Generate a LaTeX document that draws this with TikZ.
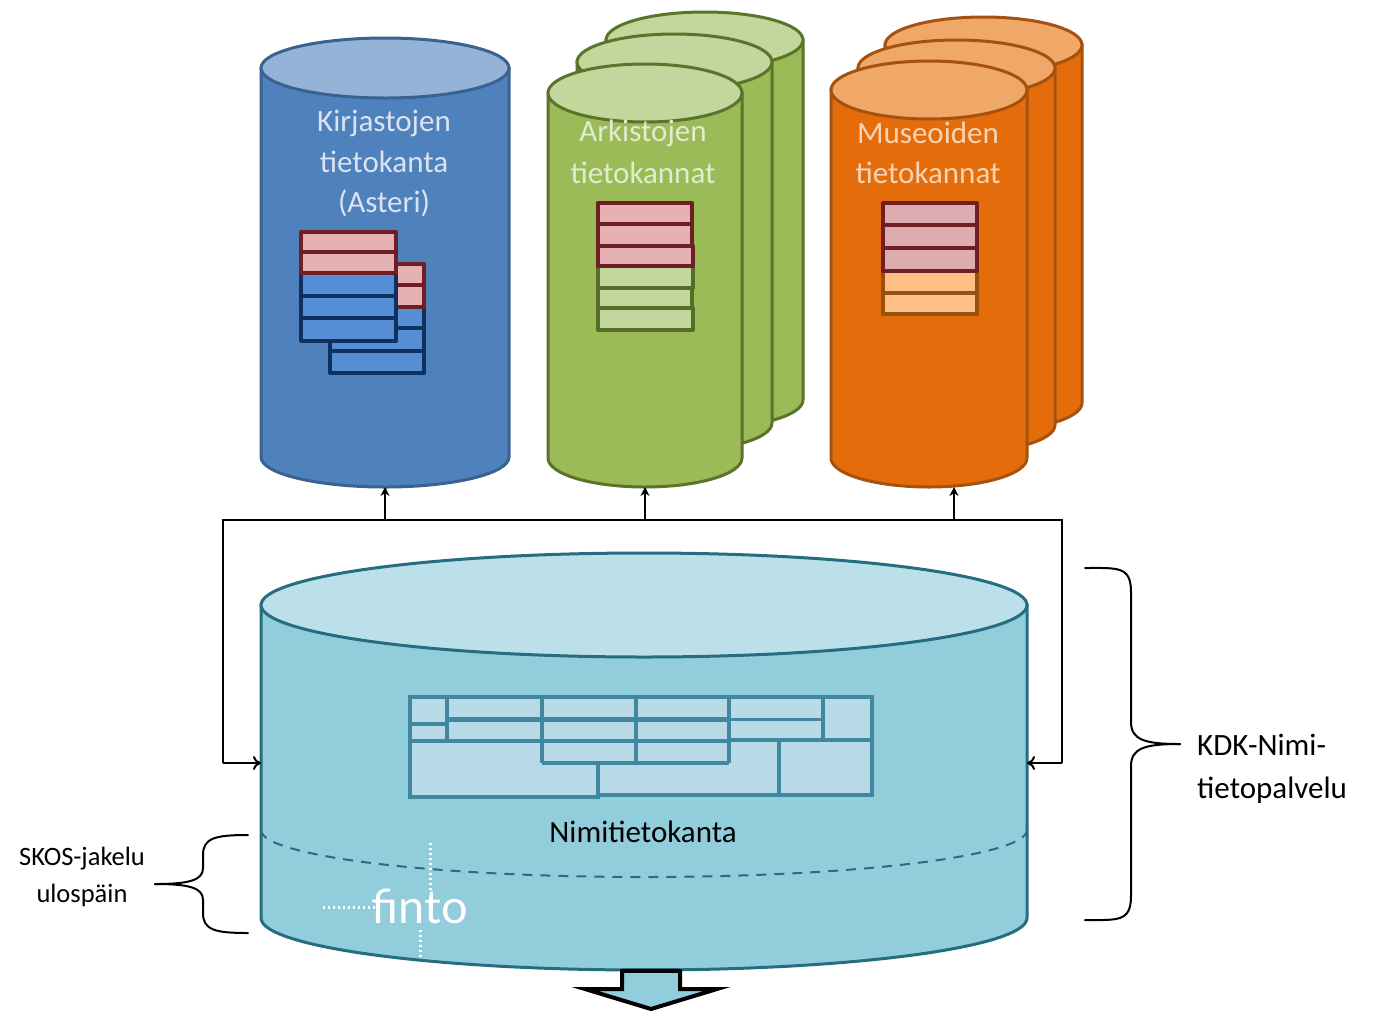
\documentclass[tikz,border=0pt]{standalone}
\usepackage{fontspec}
\setmainfont{Carlito}
\newfontfamily\logofont{Lato}
\usetikzlibrary{arrows.meta}
\definecolor{bluebody}{HTML}{4F81BD}\definecolor{blueedge}{HTML}{3A6291}\definecolor{bluetop}{HTML}{95B3D7}
\definecolor{greenbody}{HTML}{9BBB59}\definecolor{greenedge}{HTML}{5A7429}\definecolor{greentop}{HTML}{C3D69B}
\definecolor{orangebody}{HTML}{E46C0A}\definecolor{orangeedge}{HTML}{A5520F}\definecolor{orangetop}{HTML}{F0A868}
\definecolor{skybody}{HTML}{92CDDC}\definecolor{skyedge}{HTML}{256D80}\definecolor{skytop}{HTML}{BCE0EA}
\definecolor{rowedge}{HTML}{6E1F24}\definecolor{rowpink}{HTML}{E6B1B5}
\definecolor{navyedge}{HTML}{10305F}\definecolor{rowblue}{HTML}{558ED5}
\definecolor{olive}{HTML}{566D25}\definecolor{rowgreen}{HTML}{C3D69B}
\definecolor{brownedge}{HTML}{98500F}\definecolor{rowpeach}{HTML}{FCBF85}
\definecolor{tableedge}{HTML}{3F88A0}\definecolor{tablefill}{HTML}{B7DAE6}
\tikzset{
  x=1pt,y=-1pt,
  cyl/.style={line width=3pt},
  row/.style={line width=4pt,line join=round},
  conn/.style={line width=2pt,black},
  headarrow/.style={conn,-{Stealth[length=9pt,width=9pt]}},
  sidearrow/.style={conn,-{To[length=8pt,width=14pt]}},
  brace/.style={line width=2pt,black,line cap=round},
  lighttext/.style={font=\fontsize{31}{36}\selectfont,anchor=center,inner sep=0pt},
  darktext/.style={font=\fontsize{31}{36}\selectfont,black,inner sep=0pt},
  smalltext/.style={font=\fontsize{26.5}{30}\selectfont,black,inner sep=0pt},
  tline/.style={line width=3.5pt,tableedge,line join=miter},
  logodots/.style={white,line width=3pt,dash pattern=on 2pt off 3pt},
}
% #1 left, #2 right, #3 top centre y, #4 bottom centre y, #5 ry, #6 colour prefix, #7 name
\newcommand{\dbcyl}[7]{%
  \pgfmathsetmacro{\cx}{(#1+#2)/2}\pgfmathsetmacro{\rx}{(#2-#1)/2}%
  \path[cyl,draw=#6edge,fill=#6body] (#1,#3) -- (#1,#4) arc[start angle=180,end angle=360,x radius=\rx pt,y radius=#5pt] -- (#2,#3) -- cycle;
  \path[cyl,draw=#6edge,fill=#6top] (\cx,#3) ellipse[x radius=\rx pt,y radius=#5pt];
  \pgfmathsetmacro{\by}{#4+#5}%
  \coordinate (#7) at (\cx,\by);
}
% #1 left, #2 right, #3 top, #4 bottom, #5 edge, #6 fill
\newcommand{\stackrow}[6]{\path[row,draw=#5,fill=#6] (#1,#3) rectangle (#2,#4);}
\begin{document}
\begin{tikzpicture}
\useasboundingbox (0,0) rectangle (1389,1013);
% cylinders
\dbcyl{261}{509}{68}{457}{30}{blue}{kirjasto}
\dbcyl{606}{803}{40}{400}{28}{green}{arkistoC}
\dbcyl{577}{772}{62}{423}{28}{green}{arkistoB}
\dbcyl{548}{742}{93}{458}{29}{green}{arkisto}
\dbcyl{885}{1082}{45}{403}{28}{orange}{museoC}
\dbcyl{858}{1055}{68}{425}{28}{orange}{museoB}
\dbcyl{831}{1027}{90}{458}{29}{orange}{museo}
\dbcyl{261}{1027}{605}{918}{52}{sky}{nimi}
% labels
\node[lighttext,text=bluetop!35!white] (t1) at (384,123) {Kirjastojen};
\node[lighttext,text=bluetop!35!white] (t2) at (384,162) {tietokanta};
\node[lighttext,text=bluetop!35!white] (t3) at (384,203) {(Asteri)};
\node[lighttext,text=greentop!50!white] (t4) at (643,133) {Arkistojen};
\node[lighttext,text=greentop!50!white] (t5) at (643,173) {tietokannat};
\node[lighttext,text=orangetop!50!white] (t6) at (928,133) {Museoiden};
\node[lighttext,text=orangetop!50!white] (t7) at (928,173) {tietokannat};
% blue stacks
\stackrow{330}{424}{351}{373}{navyedge}{rowblue}
\stackrow{330}{424}{328}{351}{navyedge}{rowblue}
\stackrow{330}{424}{307}{328}{navyedge}{rowblue}
\stackrow{330}{424}{285}{307}{rowedge}{rowpink}
\stackrow{330}{424}{264}{285}{rowedge}{rowpink}
\stackrow{301}{396}{318}{341}{navyedge}{rowblue}
\stackrow{301}{396}{296}{318}{navyedge}{rowblue}
\stackrow{301}{396}{273}{296}{navyedge}{rowblue}
\stackrow{301}{396}{252}{273}{rowedge}{rowpink}
\stackrow{301}{396}{232}{252}{rowedge}{rowpink}
% green stack
\stackrow{598}{693}{308}{330}{olive}{rowgreen}
\stackrow{598}{692}{288}{308}{olive}{rowgreen}
\stackrow{598}{693}{266}{288}{olive}{rowgreen}
\stackrow{598}{693}{246}{266}{rowedge}{rowpink}
\stackrow{598}{692}{224}{246}{rowedge}{rowpink}
\stackrow{598}{692}{203}{224}{rowedge}{rowpink}
% orange stack
\stackrow{883}{977}{293}{314}{brownedge}{rowpeach}
\stackrow{883}{977}{271}{293}{brownedge}{rowpeach}
\stackrow{883}{977}{248}{271}{rowedge}{rowpink!90!gray}
\stackrow{883}{977}{225}{248}{rowedge}{rowpink!90!gray}
\stackrow{883}{977}{203}{225}{rowedge}{rowpink!90!gray}
% table
\path[fill=tablefill] (410,697) rectangle (872,795);
\draw[tline] (410,697) -- (872,697) -- (872,795) -- (598,795) -- (598,797) -- (410,797) -- cycle;
\draw[tline] (447,697) -- (447,741);
\draw[tline] (542,697) -- (542,763);
\draw[tline] (636,697) -- (636,763);
\draw[tline] (729,697) -- (729,763);
\draw[tline] (823,697) -- (823,741);
\draw[tline] (410,724) -- (447,724);
\draw[tline,line width=5pt] (447,719) -- (729,719);
\draw[tline,line width=3pt] (729,719) -- (823,719);
\draw[tline] (410,741) -- (729,741);
\draw[tline] (729,740) -- (872,740);
\draw[tline] (542,763) -- (729,763);
\draw[tline] (598,763) -- (598,796);
\draw[tline] (779,740) -- (779,795);
\node[darktext] (nimilabel) at (643,832) {Nimitietokanta};
% dashed arc
\draw[line width=2pt,skyedge,dash pattern=on 10pt off 8pt] (261,830) arc[start angle=180,end angle=360,x radius=383pt,y radius=47pt];
% finto logo
\draw[logodots] (323,907) -- (376,907);
\draw[logodots] (430,843) -- (430,890);
\draw[logodots] (420,930) -- (420,958);
\node[font=\logofont\fontsize{47}{50}\selectfont,text=white,inner sep=0pt] (finto) at (420,906) {finto};
% bus and arrows
\coordinate (busL) at (223,520);
\coordinate (busR) at (1062,520);
\coordinate (j1) at (kirjasto |- busL);
\coordinate (j2) at (arkisto |- busL);
\coordinate (j3) at (954,520);
\coordinate (m3) at (954,487);
\coordinate (inL) at (261,763);
\coordinate (inR) at (1027,763);
\draw[conn] (inL -| busL) -- (busL) -- (busR) -- (inR -| busR);
\draw[sidearrow] (inL -| busL) -- (inL);
\draw[sidearrow] (inR -| busR) -- (inR);
\draw[headarrow,line width=1.5pt] (j1) -- (kirjasto);
\draw[headarrow] (j2) -- (arkisto);
\draw[headarrow] (j3) -- (m3);
% export arrow
\path[fill=skybody,draw=black,line width=4pt,line join=miter] (622,970) -- (622,989) -- (585,989) -- (651,1009) -- (717,989) -- (680,989) -- (680,970);
\draw[skyedge,line width=3pt] (622,969.2) -- (680,969.2);
\draw[black,line width=4pt] (620,971) -- (682,971);
% braces
\draw[brace] (1085,568) .. controls (1118,568) and (1131,566) .. (1131,592) -- (1131,722) .. controls (1131,740) and (1145,744) .. (1180,744);
\draw[brace] (1085,920) .. controls (1118,920) and (1131,922) .. (1131,896) -- (1131,766) .. controls (1131,748) and (1145,744) .. (1180,744);
\draw[brace] (248,835) .. controls (215,835) and (203,838) .. (203,855) -- (203,868) .. controls (203,880) and (190,884) .. (155,884);
\draw[brace] (248,933) .. controls (215,933) and (203,930) .. (203,913) -- (203,900) .. controls (203,888) and (190,884) .. (155,884);
\node[darktext,anchor=west] (kdk1) at (1197,745) {KDK-Nimi-};
\node[darktext,anchor=west] (kdk2) at (1197,790) {tietopalvelu};
\node[smalltext] (sk1) at (82,859) {SKOS-jakelu};
\node[smalltext] (sk2) at (82,895) {ulospäin};
\end{tikzpicture}
\end{document}
